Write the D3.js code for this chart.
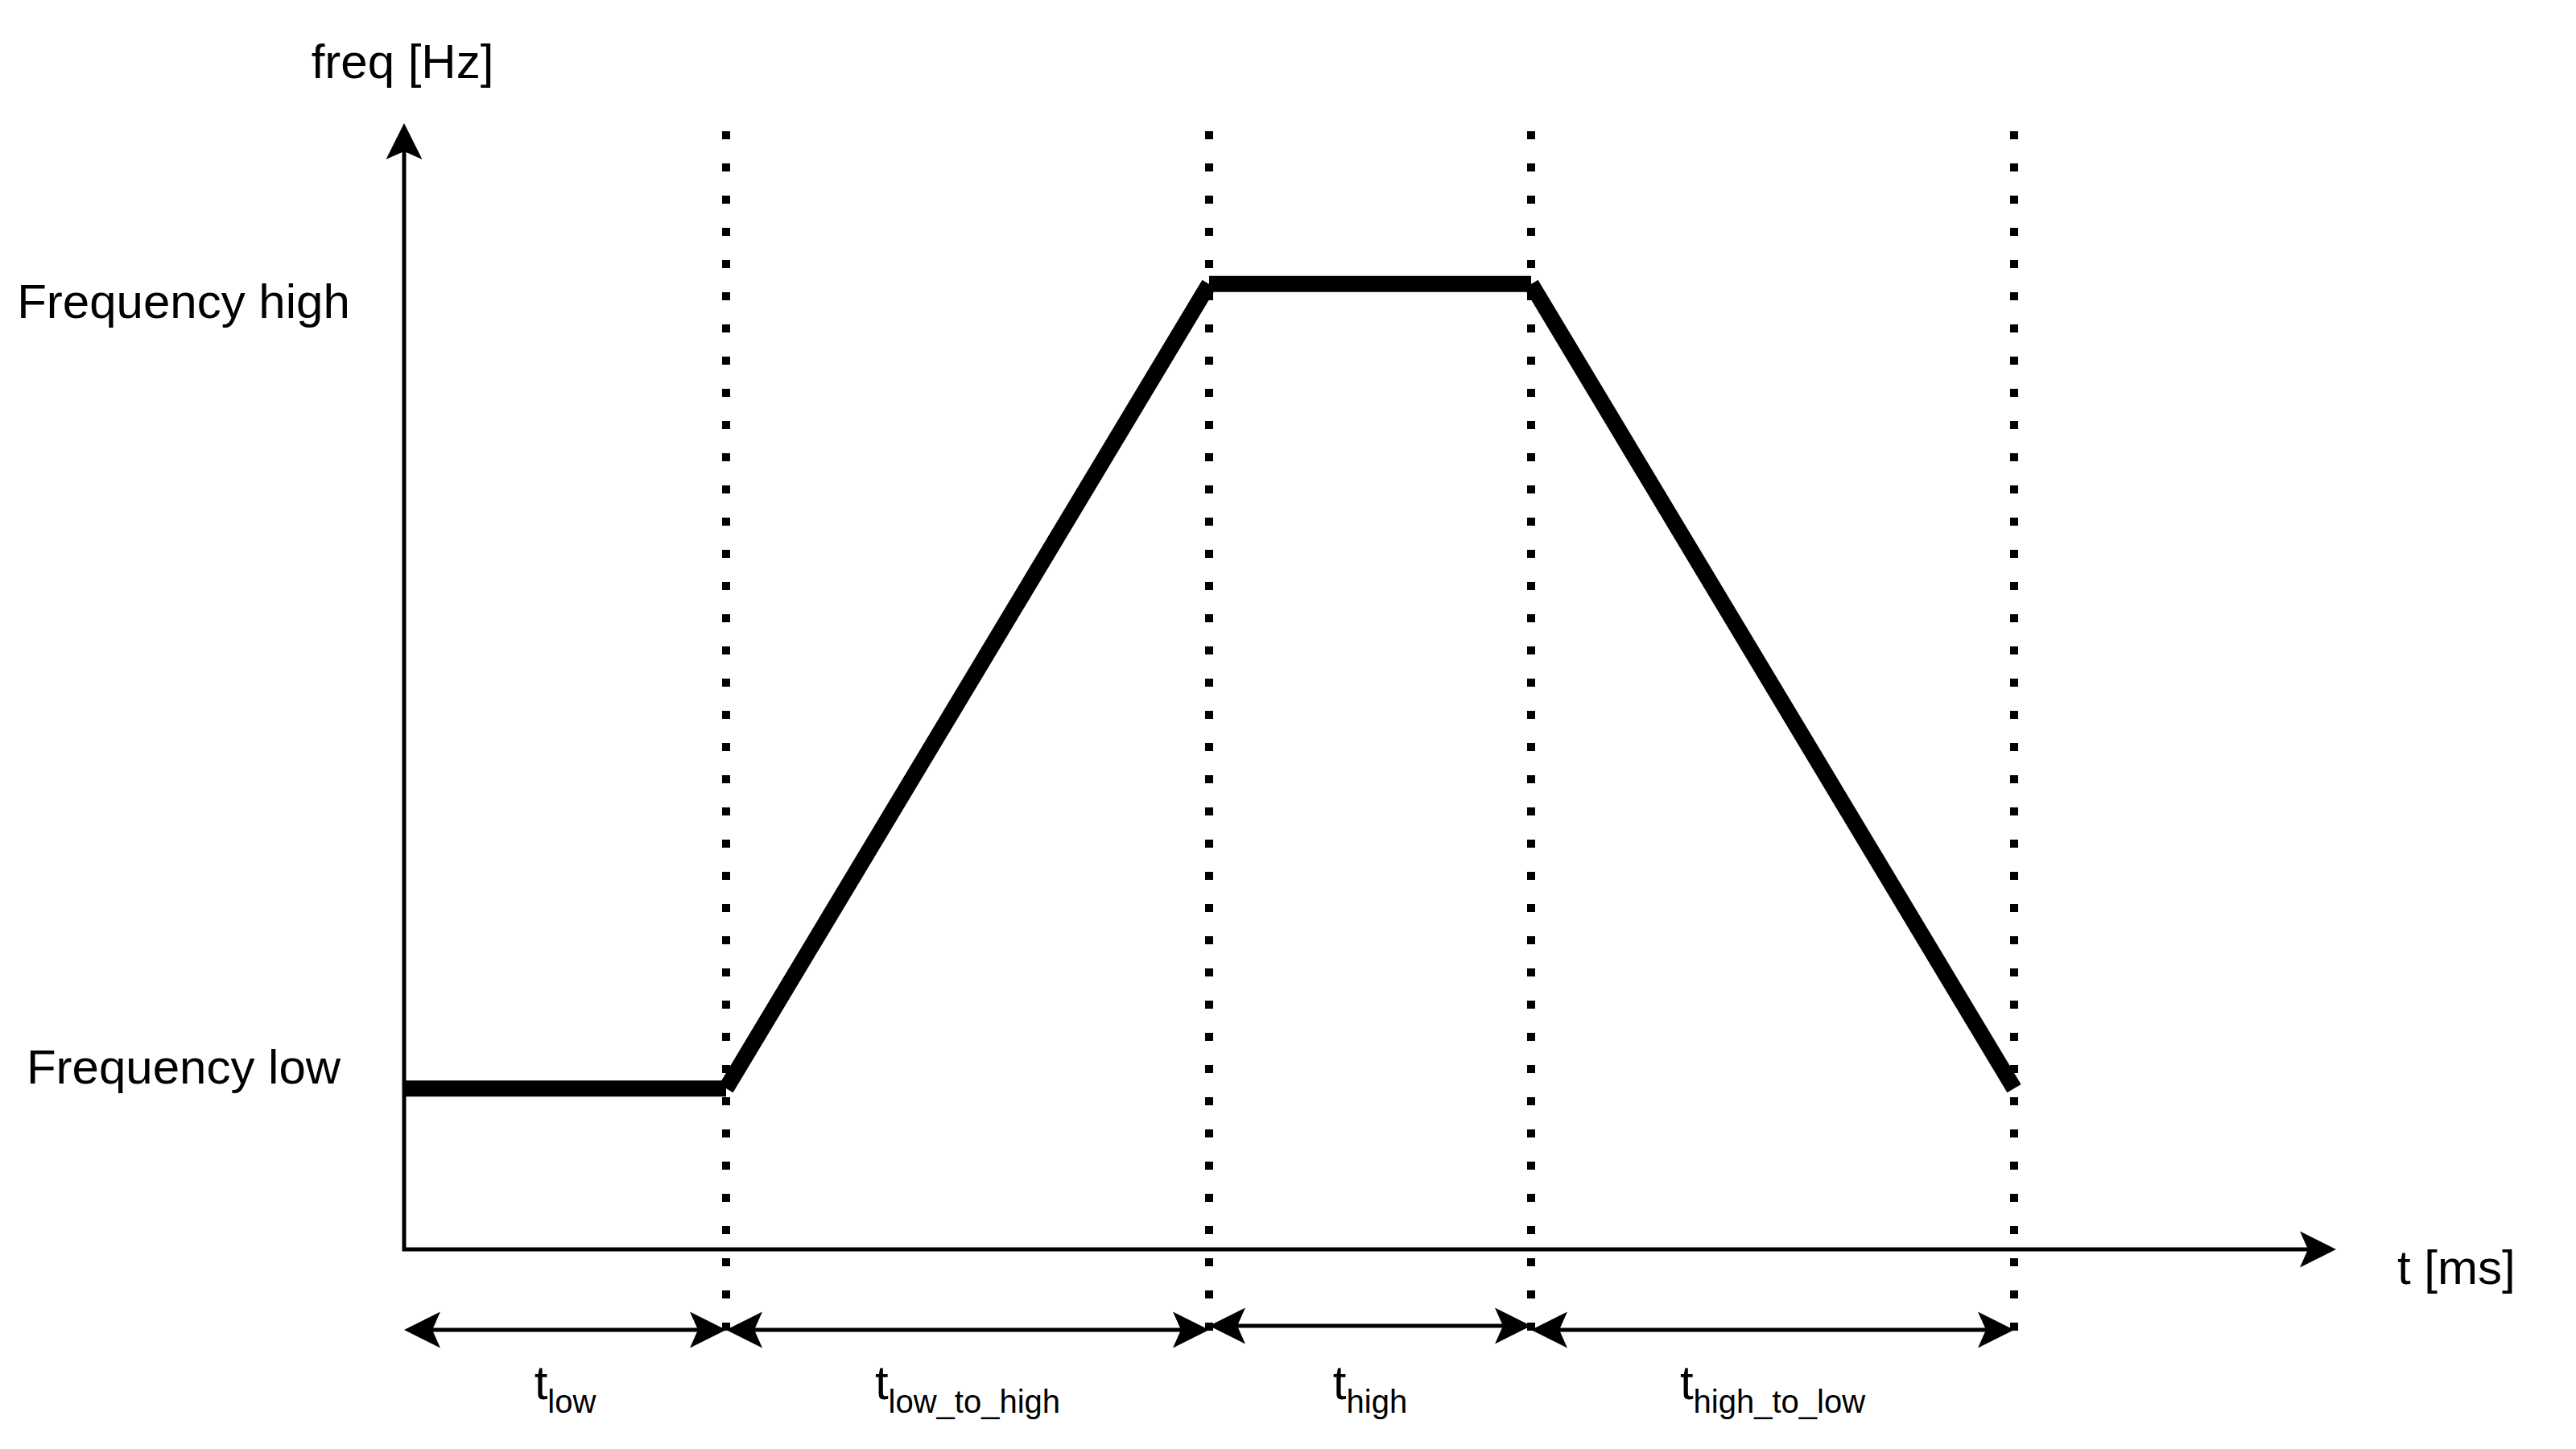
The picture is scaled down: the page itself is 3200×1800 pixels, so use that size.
<!DOCTYPE html>
<html>
<head>
<meta charset="utf-8">
<script src="https://cdn.jsdelivr.net/npm/d3@7"></script>
<style>
  html, body { margin: 0; padding: 0; background: #ffffff; }
  svg { display: block; }
  text { font-family: "Liberation Sans", Arial, Helvetica, sans-serif; fill: #000; }
</style>
</head>
<body>
<svg id="chart" width="3200" height="1800"></svg>
<script>
// ---- data ----
const phaseNames = ["low", "low_to_high", "high", "high_to_low"];
const phaseBounds = [0, 2, 5, 7, 10];          // time units at phase boundaries
const profileFreq = [1, 1, 6, 6, 1];           // frequency level at each boundary
const freqLevels = [1, 6];
const freqLabels = ["Frequency low", "Frequency high"];
const tMax = 12;
const fMax = 7;
const xTitle = "t [ms]";
const yTitle = "freq [Hz]";

// ---- layout / style ----
const W = 3200, H = 1800;
const svg = d3.select("#chart").attr("viewBox", `0 0 ${W} ${H}`);
svg.append("rect").attr("width", W).attr("height", H).attr("fill", "#fff");

const x = d3.scaleLinear().domain([0, tMax]).range([502, 2902]);
const y = d3.scaleLinear().domain([0, fMax]).range([1552, 153]);

const axisW = 5, profW = 20, dotW = 10;
const headLen = 45, headHalf = 22.5, notch = 35;
const dimY = y(0) + 100;
const dimOffsets = [0, 0, -5, 0];

// arrowhead drawer: tip at (tx,ty), direction angle in degrees
function arrowHead(g, tx, ty, angle) {
  g.append("path")
    .attr("d", `M0,0 L${-headLen},${-headHalf} L${-notch},0 L${-headLen},${headHalf} Z`)
    .attr("transform", `translate(${tx},${ty}) rotate(${angle})`)
    .attr("fill", "#000");
}

// ---- axes ----
const axes = svg.append("g");
axes.append("path")
  .attr("d", `M${x(0)},${y(fMax) + notch} L${x(0)},${y(0)} L${x(tMax) - notch},${y(0)}`)
  .attr("fill", "none").attr("stroke", "#000").attr("stroke-width", axisW)
  .attr("stroke-linejoin", "miter").attr("stroke-linecap", "butt");
arrowHead(axes, x(0), y(fMax), -90);
arrowHead(axes, x(tMax), y(0), 0);

axes.append("text").attr("x", x(0) - 2).attr("y", 97)
  .attr("text-anchor", "middle").attr("font-size", 60).text(yTitle);
axes.append("text").attr("x", x(tMax) + 76).attr("y", y(0) + 43)
  .attr("text-anchor", "start").attr("font-size", 60).text(xTitle);

// frequency level labels
const labelDy = [-6, 42];
axes.selectAll("text.flabel").data(freqLevels).enter().append("text")
  .attr("class", "flabel")
  .attr("x", 228)
  .attr("y", (d, i) => y(d) + labelDy[i])
  .attr("text-anchor", "middle").attr("font-size", 60)
  .text((d, i) => freqLabels[i]);

// ---- dimension arrows ----
const dims = svg.append("g");
phaseNames.forEach((name, i) => {
  const x0 = x(phaseBounds[i]), x1 = x(phaseBounds[i + 1]);
  const yy = dimY + dimOffsets[i];
  dims.append("line")
    .attr("x1", x0 + notch).attr("x2", x1 - notch)
    .attr("y1", yy).attr("y2", yy)
    .attr("stroke", "#000").attr("stroke-width", axisW);
  arrowHead(dims, x0, yy, 180);
  arrowHead(dims, x1, yy, 0);

  const t = dims.append("text")
    .attr("x", (x0 + x1) / 2).attr("y", dimY + 86)
    .attr("text-anchor", "middle").attr("font-size", 60);
  t.append("tspan").text("t");
  t.append("tspan").attr("font-size", 40).attr("dy", 17).text(name);
});

// ---- dotted guide lines ----
const guides = svg.append("g");
guides.selectAll("line").data(phaseBounds.slice(1)).enter().append("line")
  .attr("x1", d => x(d)).attr("x2", d => x(d))
  .attr("y1", y(fMax) + 10).attr("y2", dimY + 1)
  .attr("stroke", "#000").attr("stroke-width", dotW)
  .attr("stroke-dasharray", "10 30").attr("stroke-linecap", "butt");

// ---- frequency profile ----
const prof = svg.append("g");
const segs = d3.range(phaseBounds.length - 1).map(i => ({
  x1: x(phaseBounds[i]), y1: y(profileFreq[i]),
  x2: x(phaseBounds[i + 1]), y2: y(profileFreq[i + 1])
}));
prof.selectAll("line").data(segs).enter().append("line")
  .attr("x1", d => d.x1).attr("y1", d => d.y1)
  .attr("x2", d => d.x2).attr("y2", d => d.y2)
  .attr("stroke", "#000").attr("stroke-width", profW)
  .attr("stroke-linecap", "butt");
</script>
</body>
</html>
